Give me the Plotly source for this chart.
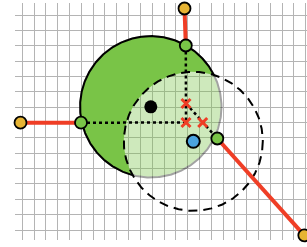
import numpy as np
import plotly.graph_objects as go

# ---- data (diagram coordinates, y grows downward) ----
green_center = (150.8, 106.8)
green_radius = 70.7
dashed_center = (193.3, 141.3)
dashed_radius = 69.5

yellow_x = [20.5, 184.5, 304.3]
yellow_y = [122.7, 8.5, 235.3]
node_x = [81.0, 185.8, 217.3]
node_y = [122.7, 45.5, 138.5]
cross_x = [186.0, 186.0, 202.7]
cross_y = [103.5, 122.5, 122.5]

grid_x0, grid_dx = 22.3, 11.81
grid_y0, grid_dy = 15.0, 15.36

GREEN = "#79c447"
RED = "#ef3e26"
YELLOW = "#e6b434"
BLUE = "#4aa3df"


def circle_pts(c, r, t0, t1, n=400):
    t = np.linspace(t0, t1, n)
    return c[0] + r * np.cos(t), c[1] + r * np.sin(t)


c1 = np.array(green_center)
c2 = np.array(dashed_center)
d = np.linalg.norm(c1 - c2)
a = (green_radius**2 - dashed_radius**2 + d**2) / (2 * d)
phi = np.arctan2(*(c1 - c2)[::-1])  # direction from dashed centre to green centre
b1 = np.arccos(a / green_radius)
b2 = np.arccos((d - a) / dashed_radius)

ax1, ay1 = circle_pts(c1, green_radius, phi - (np.pi - b1), phi + (np.pi - b1))
ax2, ay2 = circle_pts(c2, dashed_radius, phi - b2, phi + b2)
if np.hypot(ax2[0] - ax1[-1], ay2[0] - ay1[-1]) > np.hypot(ax2[-1] - ax1[-1], ay2[-1] - ay1[-1]):
    ax2, ay2 = ax2[::-1], ay2[::-1]

fig = go.Figure()

fx, fy = circle_pts(c1, green_radius, 0, 2 * np.pi)
fig.add_trace(go.Scatter(x=fx, y=fy, mode="lines", fill="toself", fillcolor=GREEN,
                         line=dict(color="black", width=2), opacity=0.36, hoverinfo="skip"))
fig.add_trace(go.Scatter(x=np.concatenate([ax1, ax2]), y=np.concatenate([ay1, ay2]),
                         mode="lines", fill="toself", fillcolor=GREEN,
                         line=dict(width=0, color=GREEN), hoverinfo="skip"))
fig.add_trace(go.Scatter(x=ax1, y=ay1, mode="lines", line=dict(color="black", width=2),
                         hoverinfo="skip"))
dx_, dy_ = circle_pts(c2, dashed_radius, 0, 2 * np.pi)
fig.add_trace(go.Scatter(x=dx_, y=dy_, mode="lines",
                         line=dict(color="black", width=2, dash="9px,6px"), hoverinfo="skip"))

dot = dict(color="black", width=2.5, dash="3px,3px")
fig.add_trace(go.Scatter(x=[node_x[0], cross_x[1]], y=[node_y[0], cross_y[1]], mode="lines", line=dot))
fig.add_trace(go.Scatter(x=[node_x[1], cross_x[1]], y=[node_y[1], cross_y[1]], mode="lines", line=dot))
fig.add_trace(go.Scatter(x=[cross_x[0], node_x[2]], y=[cross_y[0], node_y[2]], mode="lines", line=dot))

for i in range(3):
    fig.add_trace(go.Scatter(x=[yellow_x[i], node_x[i]], y=[yellow_y[i], node_y[i]], mode="lines",
                             line=dict(color=RED, width=4)))

fig.add_trace(go.Scatter(x=yellow_x, y=yellow_y, mode="markers", cliponaxis=False,
                         marker=dict(size=12, color=YELLOW, line=dict(color="black", width=1.8))))
fig.add_trace(go.Scatter(x=node_x, y=node_y, mode="markers",
                         marker=dict(size=12, color=GREEN, line=dict(color="black", width=1.8))))
fig.add_trace(go.Scatter(x=[dashed_center[0]], y=[dashed_center[1]], mode="markers",
                         marker=dict(size=13, color=BLUE, line=dict(color="black", width=2))))
fig.add_trace(go.Scatter(x=[green_center[0]], y=[green_center[1]], mode="markers",
                         marker=dict(size=13, color="black")))
fig.add_trace(go.Scatter(x=cross_x, y=cross_y, mode="markers",
                         marker=dict(size=9, symbol="x-thin", line=dict(color=RED, width=3))))

fig.update_layout(
    width=307, height=247, showlegend=False,
    margin=dict(l=15, r=0, t=3, b=7),
    paper_bgcolor="white", plot_bgcolor="white",
    xaxis=dict(range=[15, 307], tick0=grid_x0, dtick=grid_dx, showgrid=True,
               gridcolor="#b4b4b4", gridwidth=1, zeroline=False, showticklabels=False,
               ticks="", showline=False, fixedrange=True),
    yaxis=dict(range=[240, 3], tick0=grid_y0, dtick=grid_dy, showgrid=True,
               gridcolor="#b4b4b4", gridwidth=1, zeroline=False, showticklabels=False,
               ticks="", showline=False, fixedrange=True),
)
fig.write_html("out.html", config={"displayModeBar": False},
               post_script="document.body.style.margin='0px';document.body.style.overflow='hidden';")
